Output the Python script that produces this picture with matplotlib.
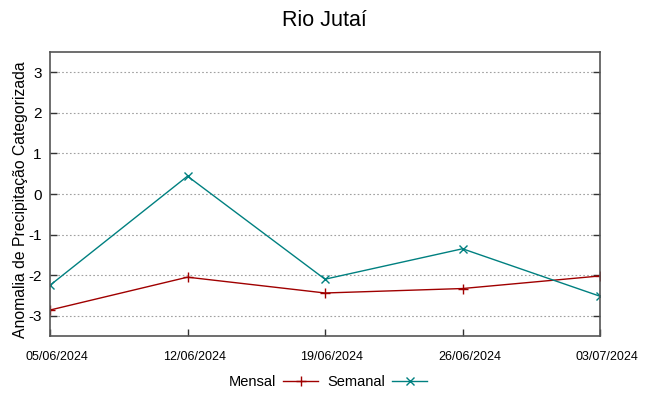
import matplotlib.pyplot as plt
from matplotlib import font_manager
from matplotlib.transforms import ScaledTranslation

datas = ["05/06/2024", "12/06/2024", "19/06/2024", "26/06/2024", "03/07/2024"]
mensal = [-2.86, -2.05, -2.44, -2.33, -2.02]
semanal = [-2.25, 0.44, -2.10, -1.35, -2.52]
y_ticks = [-3, -2, -1, 0, 1, 2, 3]

plt.rcParams['font.family'] = ['Liberation Sans', 'DejaVu Sans']
nomes = {f.name for f in font_manager.fontManager.ttflist}
fonte_x = 'Liberation Sans Narrow' if 'Liberation Sans Narrow' in nomes else 'Liberation Sans'

fig = plt.figure(figsize=(6.49, 3.96), dpi=100)
ax = fig.add_axes([50 / 649, 60 / 396, 550 / 649, 284 / 396])

x = list(range(len(datas)))
ax.plot(x, mensal, color="#a00000", lw=1, marker="+", ms=7, mew=1, label="Mensal")
ax.plot(x, semanal, color="#008080", lw=1, marker="x", ms=6, mew=1, label="Semanal")

ax.set_xlim(0, len(datas) - 1)
ax.set_ylim(-3.5, 3.5)
ax.set_xticks(x)
ax.set_xticklabels([])
# rotulos das datas um pouco deslocados para a direita, como no gnuplot
trans = ax.get_xaxis_transform() + ScaledTranslation(7 / 100, -21 / 100, fig.dpi_scale_trans)
for xi, d in zip(x, datas):
    ax.text(xi, 0, d, transform=trans, ha="center", va="center", fontsize=9,
            family=fonte_x, clip_on=False)
ax.set_yticks(y_ticks)
ax.set_yticklabels([str(v) for v in y_ticks], fontsize=11)
ax.tick_params(axis="both", direction="in", length=5, width=1, color="#333333")
ax.tick_params(axis="y", right=True, pad=6)
ax.grid(axis="y", color="#a0a0a0", linestyle=(0, (1.5, 2)), lw=0.8)
for s in ax.spines.values():
    s.set_color("#555555")
    s.set_linewidth(1.2)

ax.set_ylabel("Anomalia de Precipitação Categorizada", fontsize=11.3)
ax.yaxis.set_label_coords(-0.04, 0.48)
fig.suptitle("Rio Jutaí", fontsize=15.5, y=0.975)

fig.legend(loc="lower center", bbox_to_anchor=(0.505, -0.015), ncol=2, frameon=False,
           markerfirst=False, fontsize=10.5, handlelength=2.4, columnspacing=0.6, handletextpad=0.5)

fig.savefig("out.png", dpi=100)
